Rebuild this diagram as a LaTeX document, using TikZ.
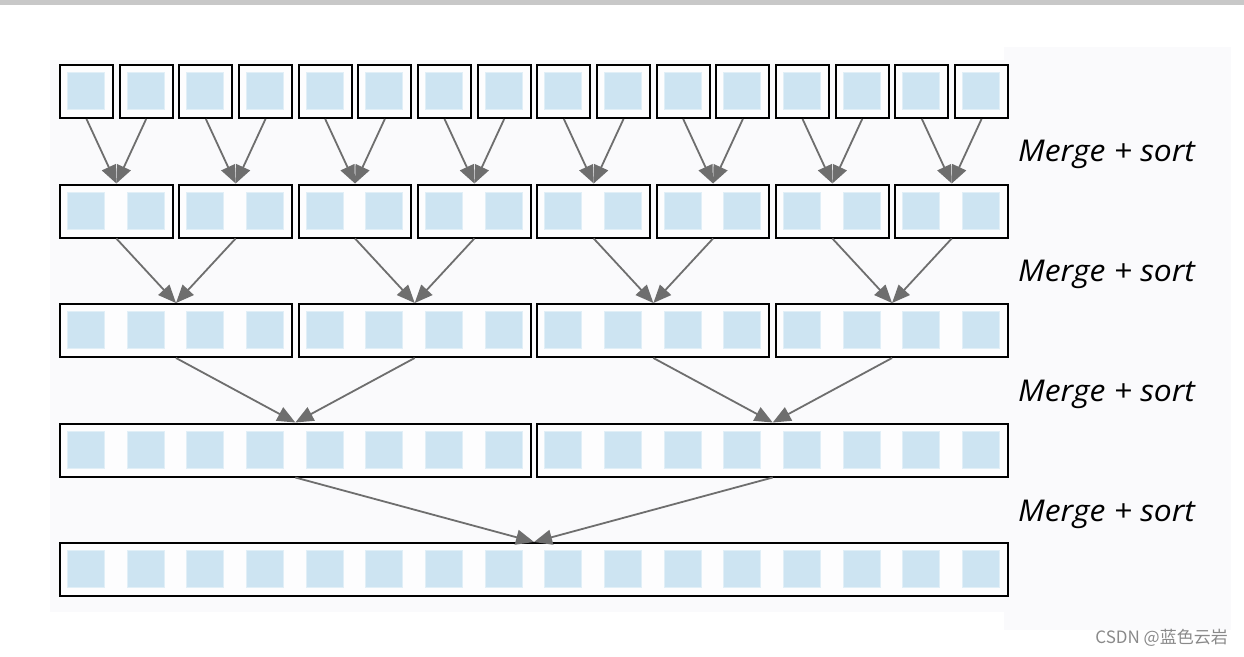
\documentclass[tikz,border=0pt]{standalone}
\usepackage{fontspec}
\usepackage{graphicx}
\setmainfont{Open Sans}
\newfontfamily\cjk{Noto Sans CJK SC}
\usetikzlibrary{arrows.meta}
\definecolor{panel}{RGB}{250,250,252}
\definecolor{cellc}{RGB}{205,228,242}
\definecolor{arr}{RGB}{110,110,110}
\definecolor{topbar}{RGB}{200,200,200}
\definecolor{wm}{RGB}{138,138,138}
\tikzset{
 box/.style={draw=black, line width=2pt, fill=white!60!panel, inner sep=0pt, minimum height=53pt, anchor=north west},
 cellbox/.style={fill=cellc, draw=cellc!60!white, line width=0.6pt, inner sep=0pt, minimum size=37pt, anchor=north west},
 link/.style={draw=arr, line width=1.8pt, -{Triangle[length=18pt,width=15pt]}},
 lbl/.style={font=\itshape\fontsize{30}{30}\selectfont, anchor=base west, inner sep=0pt},
 wmark/.style={font=\cjk\fontsize{17}{17}\selectfont, text=wm, anchor=base east, inner sep=0pt},
}
\begin{document}
\begin{tikzpicture}[x=1pt,y=-1pt]
\useasboundingbox (0,0) rectangle (1244,656);
\fill[white] (0,0) rectangle (1244,656);
\fill[topbar] (0,0) rectangle (1244,5);
\fill[panel] (50,60) rectangle (1005,612);
\fill[panel] (1004,47) rectangle (1231,630);
% boxes: row r has n boxes, each spanning k cells
\foreach \r/\n/\k in {1/16/1,2/8/2,3/4/4,4/2/8,5/1/16} {
  \pgfmathsetmacro\ytop{64+(\r-1)*119.5}
  \pgfmathsetmacro\yc{\ytop+8}
  \foreach \i in {1,...,\n} {
    \pgfmathsetmacro\xl{59+(\i-1)*\k*59.67}
    \pgfmathsetmacro\w{(\k-1)*59.67+53}
    \node[box, minimum width=\w pt] (b\r-\i) at (\xl,\ytop) {};
  }
  \foreach \j in {1,...,16} {
    \pgfmathsetmacro\xc{67+(\j-1)*59.67}
    \node[cellbox] (c\r-\j) at (\xc,\yc) {};
  }
}
% connectors
\foreach \r/\n in {1/16,2/8,3/4,4/2} {
  \pgfmathtruncatemacro\rr{\r+1}
  \foreach \i in {1,...,\n} {
    \pgfmathtruncatemacro\p{ceil(\i/2)}
    \draw[link] (b\r-\i.south) -- (b\rr-\p.north);
  }
}
% labels
\foreach \m in {1,...,4} {
  \pgfmathsetmacro\yl{161.7+(\m-1)*120}
  \node[lbl] (m\m) at (1018,\yl) {\scalebox{1.06}[1]{Merge + sort}};
}
\node[wmark] (wmk) at (1228,643) {CSDN @蓝色云岩};
\end{tikzpicture}
\end{document}
